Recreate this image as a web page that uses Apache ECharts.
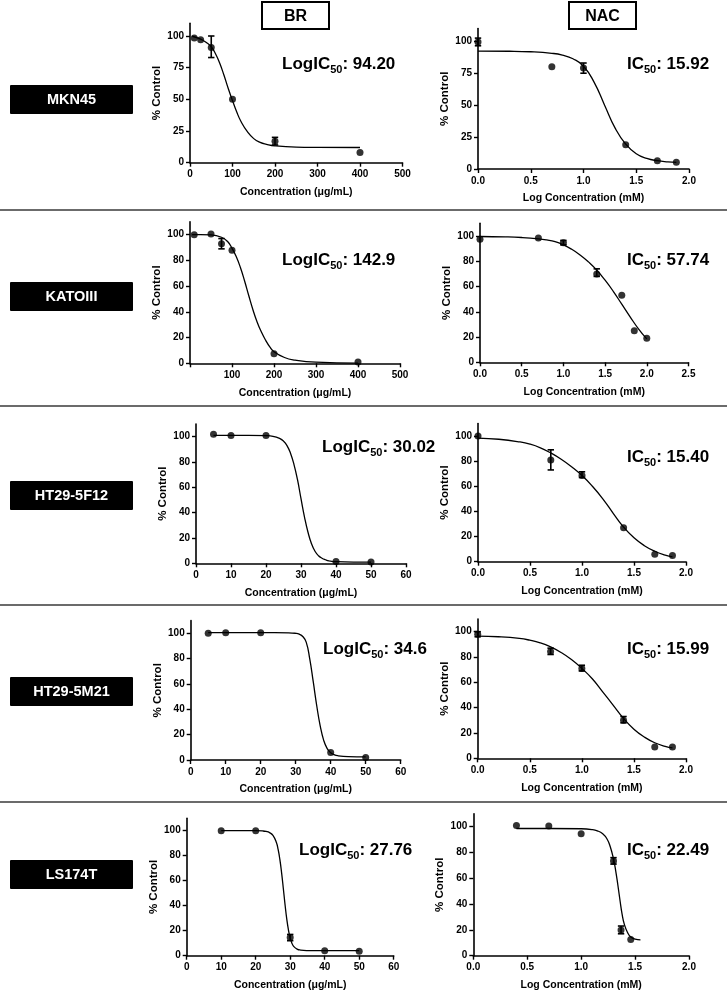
<!DOCTYPE html>
<html><head><meta charset="utf-8">
<script src="https://cdn.jsdelivr.net/npm/echarts@6/dist/echarts.min.js"></script>
<style>html,body{margin:0;padding:0;background:#fff}#c{width:727px;height:992px}</style>
</head><body><div id="c"></div>
<script>
// ---------------- DATA ----------------
const rowLabels = ['MKN45', 'KATOIII', 'HT29-5F12', 'HT29-5M21', 'LS174T'];
const colHeaders = ['BR', 'NAC'];
const brAxisTitle = 'Concentration (\u03bcg/mL)';
const nacAxisTitle = 'Log Concentration (mM)';
const yAxisTitle = '% Control';
const icPrefix = ['LogIC', 'IC'];
const icValues = ['94.20', '15.92', '142.9', '57.74', '30.02', '15.40', '34.6', '15.99', '27.76', '22.49'];

// MKN45
const mkn45BrPts = [[10,98.5],[25,97],[50,91],[100,50],[200,17],[400,8]];
const mkn45BrErr = [[50,83,100],[200,14,20]];
const mkn45BrFit = [[5,99.8],[25,97.6],[40,94.5],[50,91.5],[60,86],[70,78.5],[80,69],[90,58.5],[100,49],[110,40],[120,32.5],[135,24.5],[150,19],[165,16],[180,14.5],[200,13.3],[250,12.3],[300,12.1],[400,12]];
const mkn45NacPts = [[0,99.5],[0.7,80],[1.0,79],[1.4,19],[1.7,6.5],[1.88,5.2]];
const mkn45NacErr = [[0,96.5,102.5],[1.0,75,83]];
const mkn45NacFit = [[0,92.3],[0.3,92.2],[0.5,91.8],[0.7,90.6],[0.8,89.2],[0.9,86.3],[1.0,80.5],[1.1,68],[1.2,50],[1.3,32],[1.4,19.5],[1.5,12],[1.6,8.3],[1.7,6.5],[1.8,5.6],[1.88,5.2]];
// KATOIII
const katoBrPts = [[10,100],[50,100.5],[75,93],[100,88],[200,7.5],[400,1]];
const katoBrErr = [[75,89,97]];
const katoBrFit = [[5,100],[25,100],[50,99.8],[75,98],[90,94.5],[100,89.5],[110,83],[120,74.5],[130,64],[140,52.5],[150,41.5],[160,32],[170,24.3],[180,18],[190,12.8],[200,9],[225,4.5],[250,2.5],[300,0.9],[400,0.2]];
const katoNacPts = [[0,97.4],[0.7,98.5],[1.0,94.7],[1.4,70],[1.7,53],[1.85,25],[2.0,19]];
const katoNacErr = [[1.0,93,96.5],[1.4,68,74]];
const katoNacFit = [[0,99.6],[0.3,99.3],[0.5,98.8],[0.7,97.8],[0.8,96.9],[0.9,95.5],[1.0,93],[1.1,89.5],[1.2,85],[1.3,79.5],[1.4,73],[1.5,65],[1.6,56],[1.7,46],[1.8,36],[1.9,26.5],[2.0,18.5]];
// HT29-5F12
const h5fBrPts = [[5,102],[10,101],[20,101],[40,1.5],[50,1]];
const h5fBrErr = [];
const h5fBrFit = [[5,101],[10,101],[15,101],[20,100.8],[22,100.3],[24,98.5],[25,96.5],[26,93],[27,87],[28,78],[29,66],[30,51],[31,36.5],[32,24.5],[33,15.5],[34,9.5],[35,6],[36,4],[37,2.8],[38,2],[40,1.3],[45,1],[50,1]];
const h5fNacPts = [[0,100],[0.7,81],[1.0,68.5],[1.4,27],[1.7,6],[1.87,5]];
const h5fNacErr = [[0.7,73,89],[1.0,67,71.5]];
const h5fNacFit = [[0,98.3],[0.2,97.4],[0.4,95.3],[0.5,93.5],[0.6,90.6],[0.7,86.5],[0.8,81.5],[0.9,75.5],[1.0,68.5],[1.1,60],[1.2,50],[1.3,38.5],[1.4,27.5],[1.5,19],[1.6,12.7],[1.7,8.3],[1.8,5.3],[1.87,3.9]];
// HT29-5M21
const h5mBrPts = [[5,100],[10,100.5],[20,100.5],[40,6],[50,2]];
const h5mBrErr = [];
const h5mBrFit = [[5,100.5],[20,100.5],[28,100.4],[30,100],[31,99.3],[32,97.5],[33,93],[34,80],[35,62],[36,43],[37,27],[38,15.5],[39,9],[40,5.8],[41,4.2],[42,3.4],[45,2.7],[50,2.5]];
const h5mNacPts = [[0,98],[0.7,84.3],[1.0,71],[1.4,30],[1.7,9],[1.87,9]];
const h5mNacErr = [[0,96,100],[0.7,82,87],[1.0,69,73.5],[1.4,28,33]];
const h5mNacFit = [[0,96.5],[0.2,96],[0.4,94.7],[0.5,93.3],[0.6,91.2],[0.7,88],[0.8,83.6],[0.9,78],[1.0,71],[1.1,62.8],[1.2,52.5],[1.3,42],[1.4,31.5],[1.5,23],[1.6,16.8],[1.7,12.3],[1.8,9.5],[1.87,8.3]];
// LS174T
const lsBrPts = [[10,100],[20,100],[30,14.5],[40,4],[50,3.5]];
const lsBrErr = [[30,12,17]];
const lsBrFit = [[10,100],[20,100],[22,99.8],[23,99.4],[24,98.5],[25,96.3],[26,90.5],[26.5,85],[27,77],[27.5,66.5],[28,54],[28.5,41],[29,29.5],[29.5,20.5],[30,14],[30.5,10],[31,7.5],[32,5.3],[33,4.5],[35,4.1],[40,4],[50,4]];
const lsNacPts = [[0.4,101],[0.7,100.5],[1.0,94.5],[1.3,73.5],[1.37,20],[1.46,12.5]];
const lsNacErr = [[1.3,71,76],[1.37,17,23]];
const lsNacFit = [[0.4,98.6],[0.7,98.6],[1.0,98.4],[1.1,97.8],[1.15,96.8],[1.2,94.5],[1.24,90.5],[1.27,84.5],[1.3,75],[1.32,66],[1.34,55],[1.36,43],[1.38,32],[1.4,24.5],[1.43,18],[1.46,14.5],[1.5,12.8],[1.55,12.2]];

// ---------------- LAYOUT ----------------
const FONT = "'Liberation Sans',Arial,Helvetica,sans-serif";

const panels = [
  {pts:mkn45BrPts, err:mkn45BrErr, fit:mkn45BrFit, x0:190, x1:402.5, y0:162.7, y100:36, xmax:500, xint:100, dec:0, skip0:false, ystep:25, br:true, lab:[282,67]},
  {pts:mkn45NacPts, err:mkn45NacErr, fit:mkn45NacFit, x0:478, x1:689, y0:169, y100:41.3, xmax:2, xint:0.5, dec:1, skip0:false, ystep:25, br:false, lab:[627,67]},
  {pts:katoBrPts, err:katoBrErr, fit:katoBrFit, x0:190, x1:400, y0:363.3, y100:234.7, xmax:500, xint:100, dec:0, skip0:true, ystep:20, br:true, lab:[282,263]},
  {pts:katoNacPts, err:katoNacErr, fit:katoNacFit, x0:480, x1:688.5, y0:362.3, y100:236, xmax:2.5, xint:0.5, dec:1, skip0:false, ystep:20, br:false, lab:[627,263]},
  {pts:h5fBrPts, err:h5fBrErr, fit:h5fBrFit, x0:196, x1:406, y0:563.3, y100:436.7, xmax:60, xint:10, dec:0, skip0:false, ystep:20, br:true, lab:[322,450]},
  {pts:h5fNacPts, err:h5fNacErr, fit:h5fNacFit, x0:478, x1:686, y0:561.7, y100:436, xmax:2, xint:0.5, dec:1, skip0:false, ystep:20, br:false, lab:[627,460]},
  {pts:h5mBrPts, err:h5mBrErr, fit:h5mBrFit, x0:190.7, x1:400.7, y0:760, y100:633.3, xmax:60, xint:10, dec:0, skip0:false, ystep:20, br:true, lab:[323,652]},
  {pts:h5mNacPts, err:h5mNacErr, fit:h5mNacFit, x0:477.7, x1:686, y0:758.3, y100:631.7, xmax:2, xint:0.5, dec:1, skip0:false, ystep:20, br:false, lab:[627,652]},
  {pts:lsBrPts, err:lsBrErr, fit:lsBrFit, x0:186.7, x1:393.7, y0:955.7, y100:830.7, xmax:60, xint:10, dec:0, skip0:false, ystep:20, br:true, lab:[299,853]},
  {pts:lsNacPts, err:lsNacErr, fit:lsNacFit, x0:473.3, x1:689, y0:955.7, y100:826.7, xmax:2, xint:0.5, dec:1, skip0:false, ystep:20, br:false, lab:[627,853]}
];

const rowBoxes = [[10,85,123,29],[10,282,123,29],[10,481,123,29],[10,677,123,29],[10,860,123,29]];
const headerBoxes = [[262,2,67,27],[569,2,67,27]];
const separators = [210, 406, 605, 802];

// ---------------- BUILD ----------------
const grid = [], xAxis = [], yAxis = [], series = [], graphic = [];
const axisLineStyle = {color:'#000', width:1.6};

panels.forEach((p, i) => {
  const pxPerUnit = (p.y0 - p.y100) / 100;
  const top = p.y0 - 110 * pxPerUnit;
  grid.push({left:p.x0, top:top, width:p.x1 - p.x0, height:p.y0 - top, containLabel:false});
  const xVals = [];
  for (let v = 0; v <= p.xmax + 1e-9; v += p.xint) xVals.push(+v.toFixed(3));
  const yVals = [];
  for (let v = 0; v <= 100; v += p.ystep) yVals.push(v);
  xAxis.push({
    type:'value', gridIndex:i, min:0, max:p.xmax, interval:p.xint,
    axisLine:{show:true, onZero:false, lineStyle:axisLineStyle},
    axisTick:{show:true, length:4, lineStyle:{color:'#000', width:1.4}, customValues:xVals},
    axisLabel:{color:'#000', fontFamily:FONT, fontWeight:'bold', fontSize:10, margin:7,
      customValues: p.skip0 ? xVals.slice(1) : xVals,
      formatter: v => (+v).toFixed(p.dec)},
    splitLine:{show:false},
    name: p.br ? brAxisTitle : nacAxisTitle, nameLocation:'middle', nameGap:24,
    nameTextStyle:{color:'#000', fontFamily:FONT, fontWeight:'bold', fontSize:10.5}
  });
  yAxis.push({
    type:'value', gridIndex:i, min:0, max:110,
    axisLine:{show:true, lineStyle:axisLineStyle},
    axisTick:{show:true, length:4, lineStyle:{color:'#000', width:1.4}, customValues:yVals},
    axisLabel:{color:'#000', fontFamily:FONT, fontWeight:'bold', fontSize:10, margin:6, customValues:yVals},
    splitLine:{show:false},
    name: yAxisTitle, nameLocation:'middle', nameGap:27,
    nameTextStyle:{color:'#000', fontFamily:FONT, fontWeight:'bold', fontSize:11.5}
  });
  series.push({
    type:'line', xAxisIndex:i, yAxisIndex:i, data:p.fit, smooth:0.5,
    showSymbol:false, symbol:'none', lineStyle:{color:'#000', width:1.3}, silent:true, z:2
  });
  series.push({
    type:'custom', xAxisIndex:i, yAxisIndex:i, data:p.err, encode:{x:0, y:[1,2]}, z:3,
    renderItem:(params, api) => {
      const x = api.value(0);
      const a = api.coord([x, api.value(1)]);
      const b = api.coord([x, api.value(2)]);
      const w = 3.2, st = {stroke:'#000', lineWidth:1.6};
      return {type:'group', children:[
        {type:'line', shape:{x1:a[0], y1:a[1], x2:b[0], y2:b[1]}, style:st},
        {type:'line', shape:{x1:a[0]-w, y1:a[1], x2:a[0]+w, y2:a[1]}, style:st},
        {type:'line', shape:{x1:b[0]-w, y1:b[1], x2:b[0]+w, y2:b[1]}, style:st}
      ]};
    }
  });
  series.push({
    type:'scatter', xAxisIndex:i, yAxisIndex:i, data:p.pts, symbol:'circle', symbolSize:7,
    itemStyle:{color:'#000'}, z:4
  });
  graphic.push({
    type:'text', left:p.lab[0], top:p.lab[1] - 11, z:10,
    style:{
      text:'{m|' + icPrefix[i % 2] + '}{s|50}{m|: ' + icValues[i] + '}',
      rich:{
        m:{fontFamily:FONT, fontWeight:'bold', fontSize:17, lineHeight:22, fill:'#000', verticalAlign:'middle'},
        s:{fontFamily:FONT, fontWeight:'bold', fontSize:11, lineHeight:11, fill:'#000', verticalAlign:'bottom'}
      }
    }
  });
});

separators.forEach(y => {
  graphic.push({type:'line', shape:{x1:0, y1:y, x2:727, y2:y}, style:{stroke:'#3a3a3a', lineWidth:1.5}, z:1});
});

rowBoxes.forEach((b, i) => {
  graphic.push({type:'rect', shape:{x:b[0], y:b[1], width:b[2], height:b[3], r:1}, style:{fill:'#000'}, z:5});
  graphic.push({type:'text', x:b[0] + b[2]/2, y:b[1] + b[3]/2, z:6,
    style:{text:rowLabels[i], fill:'#fff', fontFamily:FONT, fontWeight:'bold', fontSize:14.5, align:'center', verticalAlign:'middle'}});
});

headerBoxes.forEach((b, i) => {
  graphic.push({type:'rect', shape:{x:b[0], y:b[1], width:b[2], height:b[3]}, style:{fill:'#fff', stroke:'#000', lineWidth:2}, z:5});
  graphic.push({type:'text', x:b[0] + b[2]/2, y:b[1] + b[3]/2 + 1, z:6,
    style:{text:colHeaders[i], fill:'#000', fontFamily:FONT, fontWeight:'bold', fontSize:16, align:'center', verticalAlign:'middle'}});
});

const chart = echarts.init(document.getElementById('c'), null, {renderer:'canvas'});
chart.setOption({
  animation:false,
  backgroundColor:'#fff',
  grid, xAxis, yAxis, series, graphic
});
</script>
</body></html>
